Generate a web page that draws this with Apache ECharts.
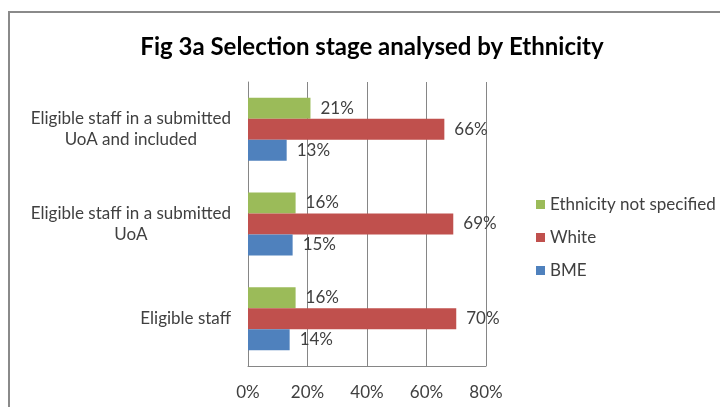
<!DOCTYPE html>
<html>
<head>
<meta charset="utf-8">
<script src="https://cdn.jsdelivr.net/npm/echarts@6/dist/echarts.min.js"></script>
<style>
html,body{margin:0;padding:0;background:#fff;}
#main{width:720px;height:407px;}
</style>
</head>
<body>
<div id="main"></div>
<script>
var categories = [
  'Eligible staff',
  'Eligible staff in a submitted\nUoA',
  'Eligible staff in a submitted\nUoA and included'
];
var bmeValues = [14, 15, 13];
var whiteValues = [70, 69, 66];
var notSpecifiedValues = [16, 16, 21];
var xTicks = [0, 20, 40, 60, 80];

var FONT = 'Lato';
var FS = 17;
var chart = echarts.init(document.getElementById('main'));
var labelStyle = {
  show: true, position: 'right', distance: 10,
  formatter: '{c}%', color: '#404040', fontSize: FS, fontFamily: FONT
};
chart.setOption({
  animation: false,
  title: {
    text: 'Fig 3a Selection stage analysed by Ethnicity',
    left: 367, top: 30, textAlign: 'center',
    textStyle: {fontFamily: FONT, fontSize: 24, fontWeight: 'bold', color: '#000'}
  },
  graphic: [{
    type: 'rect', shape: {x: 9, y: 12, width: 800, height: 500},
    style: {fill: 'none', stroke: '#8a8a8a', lineWidth: 2}
  }],
  legend: {
    orient: 'vertical', left: 531, top: 191,
    data: ['Ethnicity not specified', 'White', 'BME'],
    itemWidth: 9, itemHeight: 9, itemGap: 16, icon: 'rect',
    textStyle: {fontFamily: FONT, fontSize: FS, color: '#404040', lineHeight: 17}
  },
  grid: {left: 248, right: 234, top: 82, bottom: 41},
  xAxis: {
    type: 'value', min: xTicks[0], max: xTicks[xTicks.length - 1], interval: 20,
    axisLine: {show: true, lineStyle: {color: '#868686'}},
    axisTick: {show: false},
    splitLine: {lineStyle: {color: '#868686'}},
    axisLabel: {formatter: '{value}%', color: '#404040', fontSize: FS, fontFamily: FONT, margin: 18}
  },
  yAxis: {
    type: 'category', data: categories,
    axisLine: {show: true, lineStyle: {color: '#868686'}},
    axisTick: {show: false},
    axisLabel: {
      margin: 17, color: '#404040', fontSize: FS, fontFamily: FONT,
      formatter: function (v) { return '{a|' + v.split('\n').join('}\n{a|') + '}'; },
      rich: {a: {align: 'center', color: '#404040', fontSize: FS, fontFamily: FONT, lineHeight: 21}}
    }
  },
  series: [
    {name: 'Ethnicity not specified', type: 'bar', data: notSpecifiedValues, barWidth: 21, barGap: '0%',
     itemStyle: {color: '#9BBB59'}, label: labelStyle},
    {name: 'White', type: 'bar', data: whiteValues, barWidth: 21, barGap: '0%',
     itemStyle: {color: '#C0504D'}, label: labelStyle},
    {name: 'BME', type: 'bar', data: bmeValues, barWidth: 21, barGap: '0%',
     itemStyle: {color: '#4F81BD'}, label: labelStyle}
  ]
});
</script>
</body>
</html>
